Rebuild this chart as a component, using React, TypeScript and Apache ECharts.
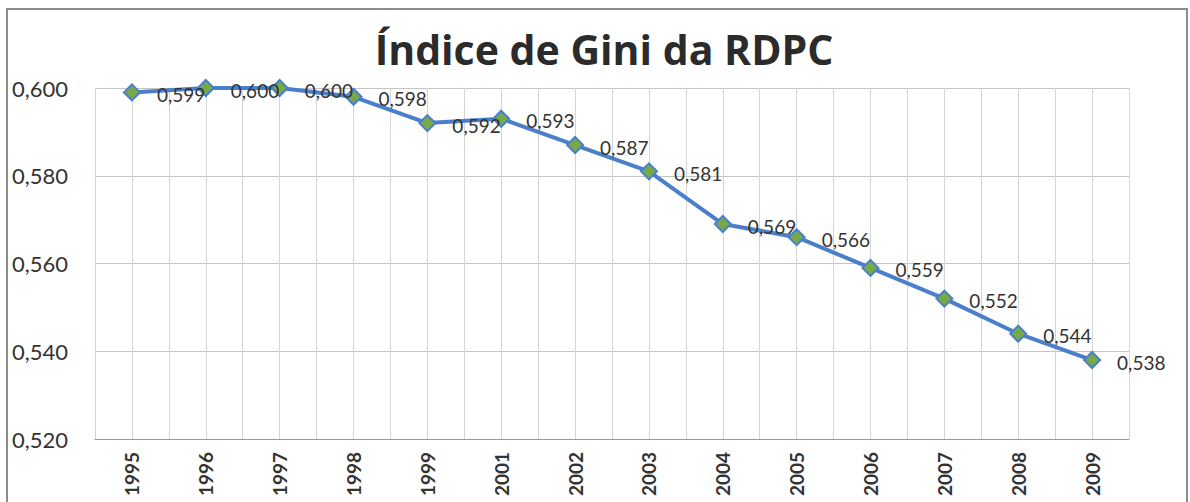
import React, { useEffect, useRef } from "react";
import * as echarts from "echarts";

const years = ["1995", "1996", "1997", "1998", "1999", "2001", "2002", "2003", "2004", "2005", "2006", "2007", "2008", "2009"];
const gini = [0.599, 0.6, 0.6, 0.598, 0.592, 0.593, 0.587, 0.581, 0.569, 0.566, 0.559, 0.552, 0.544, 0.538];
const yMin = 0.52;
const yMax = 0.6;
const yStep = 0.02;
const title = "Índice de Gini da RDPC";

const fmt = (v: number) => v.toFixed(3).replace(".", ",");

export default function App() {
  const ref = useRef<HTMLDivElement>(null);
  useEffect(() => {
    if (!ref.current) return;
    const chart = echarts.init(ref.current, undefined, { renderer: "svg" });
    const halfCats = years.flatMap((y) => [y + "a", y + "b"]);
    chart.setOption({
      animation: false,
      backgroundColor: "#ffffff",
      title: {
        text: title,
        left: 599,
        textAlign: "center",
        top: 23,
        textStyle: { fontFamily: "Open Sans", fontWeight: "bold", fontSize: 41, color: "#2b2b2b" },
      },
      graphic: [
        {
          type: "rect",
          shape: { x: 7, y: 9, width: 1180, height: 500 },
          style: { fill: "none", stroke: "#8c8c8c", lineWidth: 2 },
          silent: true,
        },
      ],
      grid: { left: 95, right: 61, top: 88, bottom: 63, containLabel: false },
      xAxis: [
        {
          type: "category",
          data: years,
          boundaryGap: true,
          axisLine: { show: true, lineStyle: { color: "#9a9a9a", width: 1 } },
          axisTick: { show: false },
          splitLine: { show: false },
          axisLabel: {
            rotate: 90,
            margin: 13,
            fontFamily: "Lato",
            fontWeight: "bold",
            fontSize: 19,
            color: "#333333",
            interval: 0,
          },
        },
        {
          type: "category",
          data: halfCats,
          boundaryGap: true,
          position: "bottom",
          axisLine: { show: false },
          axisTick: { show: false },
          axisLabel: { show: false },
          splitLine: { show: true, interval: 0, lineStyle: { color: "#d4d4d4", width: 1 } },
        },
      ],
      yAxis: {
        type: "value",
        min: yMin,
        max: yMax,
        interval: yStep,
        axisLine: { show: false },
        axisTick: { show: false },
        splitLine: { show: true, lineStyle: { color: "#c4c4c4", width: 1 } },
        axisLabel: {
          formatter: (v: number) => fmt(v),
          align: "left",
          margin: 83,
          fontFamily: "Lato",
          fontSize: 22,
          color: "#333333",
        },
      },
      series: [
        {
          type: "line",
          data: gini,
          xAxisIndex: 0,
          symbol: "diamond",
          symbolSize: 16,
          lineStyle: { color: "#4a7fcb", width: 4 },
          itemStyle: { color: "#78a948", borderColor: "#4a7fcb", borderWidth: 2 },
          label: {
            show: true,
            position: "right",
            distance: 16,
            offset: [0, 2],
            formatter: (p: any) => fmt(p.value),
            fontFamily: "Lato",
            fontSize: 19,
            color: "#333333",
          },
        },
      ],
    });
    return () => chart.dispose();
  }, []);
  return <div ref={ref} style={{ position: "absolute", left: 0, top: 0, width: 1190, height: 502 }} />;
}
